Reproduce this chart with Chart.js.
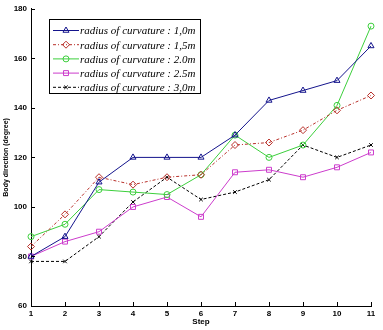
<!DOCTYPE html>
<html>
<head>
<meta charset="utf-8">
<script src="https://cdn.jsdelivr.net/npm/chart.js@4/dist/chart.umd.min.js"></script>
<style>
  html, body { margin: 0; padding: 0; background: #fff; }
  #wrap { width: 383px; height: 330px; }
</style>
</head>
<body>
<div id="wrap"><canvas id="dirChart" width="383" height="330"></canvas></div>
<script>
// ===== DATA =====
const steps = ['1', '2', '3', '4', '5', '6', '7', '8', '9', '10', '11'];
const yTicks = [60, 80, 100, 120, 140, 160, 180];
const seriesNames = [
    'radius of curvature : 1,0m',
    'radius of curvature : 1,5m',
    'radius of curvature : 2.0m',
    'radius of curvature : 2.5m',
    'radius of curvature : 3,0m'
];
const radius10 = [80, 88, 110, 120, 120, 120, 129, 143, 147, 151, 165];
const radius15 = [84, 97, 112, 109, 112, 113, 125, 126, 131, 139, 145];
const radius20 = [88, 93, 107, 106, 105, 113, 129, 120, 125, 141, 173];
const radius25 = [80, 86, 90, 100, 104, 96, 114, 115, 112, 116, 122];
const radius30 = [78, 78, 88, 102, 112, 103, 106, 111, 125, 120, 125];

const TICK_FONT = { family: 'Liberation Sans, Arial, sans-serif', size: 8, weight: 'bold' };

function series(label, data, color, pointStyle, radius, dash) {
    return {
        label: label,
        data: data,
        borderColor: color,
        backgroundColor: color,
        borderWidth: 1,
        borderDash: dash,
        pointStyle: pointStyle,
        pointRadius: radius,
        pointBorderWidth: 1,
        pointBorderColor: color,
        pointBackgroundColor: 'rgba(0,0,0,0)',
        tension: 0,
        fill: false
    };
}

// inward tick marks on both axes
const innerTicks = {
    id: 'innerTicks',
    afterDraw(chart) {
        const { ctx, chartArea, scales } = chart;
        ctx.save();
        ctx.strokeStyle = '#000';
        ctx.lineWidth = 1;
        ctx.beginPath();
        yTicks.forEach(v => {
            const y = Math.round(scales.y.getPixelForValue(v)) + 0.5;
            ctx.moveTo(chartArea.left, y);
            ctx.lineTo(chartArea.left + 4, y);
        });
        steps.forEach((s, i) => {
            const x = Math.round(scales.x.getPixelForValue(i)) + 0.5;
            ctx.moveTo(x, chartArea.bottom);
            ctx.lineTo(x, chartArea.bottom - 4);
        });
        ctx.stroke();
        ctx.restore();
    }
};

// boxed legend drawn inside the plot, top-left
const boxLegend = {
    id: 'boxLegend',
    afterDraw(chart) {
        const ctx = chart.ctx;
        const bx = 49.5, by = 19.5, bw = 151, bh = 74;
        ctx.save();
        ctx.fillStyle = '#fff';
        ctx.fillRect(bx, by, bw, bh);
        ctx.strokeStyle = '#000';
        ctx.lineWidth = 1;
        ctx.strokeRect(bx, by, bw, bh);
        ctx.font = 'italic 11px "Liberation Serif", "Times New Roman", serif';
        ctx.textBaseline = 'middle';
        chart.data.datasets.forEach((ds, i) => {
            const y = 30.5 + i * 14.2;
            ctx.strokeStyle = ds.borderColor;
            ctx.lineWidth = 1;
            ctx.setLineDash(ds.borderDash || []);
            ctx.beginPath();
            ctx.moveTo(53, y);
            ctx.lineTo(79, y);
            ctx.stroke();
            ctx.setLineDash([]);
            ctx.fillStyle = 'rgba(0,0,0,0)';
            Chart.helpers.drawPoint(ctx, {
                pointStyle: ds.pointStyle,
                radius: ds.pointRadius,
                borderWidth: 1
            }, 66, y);
            ctx.fillStyle = '#000';
            ctx.fillText(ds.label, 80, y + 1);
        });
        ctx.restore();
    }
};

new Chart(document.getElementById('dirChart'), {
    type: 'line',
    data: {
        labels: steps,
        datasets: [
            series(seriesNames[0], radius10, '#14148c', 'triangle', 3.5, []),
            series(seriesNames[1], radius15, '#b8302a', 'rectRot', 3.5, [3, 2, 1, 2]),
            series(seriesNames[2], radius20, '#3ccf3c', 'circle', 3, []),
            series(seriesNames[3], radius25, '#cc3ccc', 'rect', 3.5, []),
            series(seriesNames[4], radius30, '#000000', 'crossRot', 2.5, [3, 2])
        ]
    },
    options: {
        responsive: false,
        animation: false,
        layout: { padding: { left: 0, right: 12, top: 6, bottom: 0 } },
        plugins: {
            legend: { display: false },
            tooltip: { enabled: false }
        },
        scales: {
            x: {
                offset: false,
                grid: { drawOnChartArea: false, drawTicks: false },
                border: { color: '#000', width: 1 },
                ticks: { color: '#000', font: TICK_FONT, padding: 3, maxRotation: 0, autoSkip: false },
                title: { display: true, text: 'Step', color: '#000', font: TICK_FONT, padding: { top: 0, bottom: 3 } },
                afterFit(scale) { scale.height = 24; }
            },
            y: {
                min: 60,
                max: 180,
                grid: { drawOnChartArea: false, drawTicks: false },
                border: { color: '#000', width: 1 },
                afterBuildTicks(scale) { scale.ticks = yTicks.map(v => ({ value: v })); },
                ticks: { color: '#000', font: TICK_FONT, padding: 4 },
                title: { display: true, text: 'Body direction (degree)', color: '#000',
                         font: { family: 'Liberation Sans, Arial, sans-serif', size: 7, weight: 'bold' },
                         padding: { top: 2, bottom: 0 } },
                afterFit(scale) { scale.width = 31; }
            }
        }
    },
    plugins: [innerTicks, boxLegend]
});
</script>
</body>
</html>
